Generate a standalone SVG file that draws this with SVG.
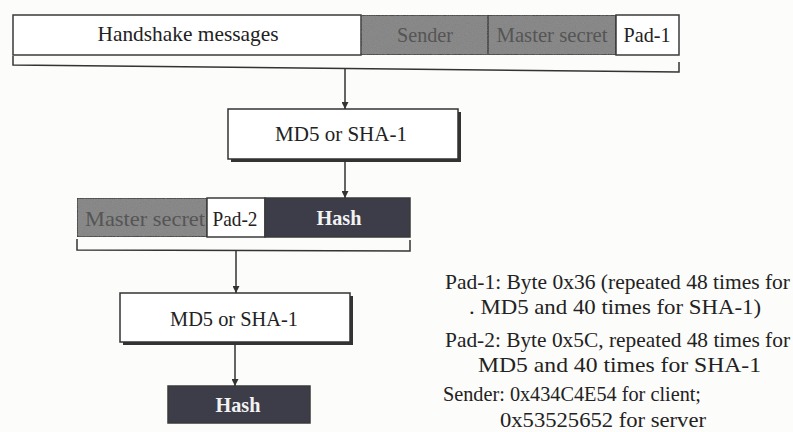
<svg xmlns="http://www.w3.org/2000/svg" width="793" height="432" viewBox="0 0 793 432">
<style>
  .bg { fill: #fcfcfa; }
  .seg { stroke: #3a3a3a; stroke-width: 1.5; }
  .white { fill: #ffffff; }
  .gray { fill: #8a8a8a; }
  .grain { filter: url(#grain); }
  .dark { fill: #3c3d49; }
  .box { fill: #ffffff; stroke: #333; stroke-width: 1.5; }
  .shadow { fill: #333; }
  .t { font-family: "Liberation Serif", "Times New Roman", serif; fill: #222; }
  .lbl { font-size: 22px; text-anchor: middle; }
  .dim { fill: #555; }
  .bold { font-weight: bold; fill: #f2f2f2; }
  .note { font-size: 21px; }
  .ln { stroke: #333; stroke-width: 1.5; fill: none; }
</style>
<defs>
  <marker id="arr" viewBox="0 0 10 10" refX="10" refY="5" markerWidth="7" markerHeight="7" orient="auto" markerUnits="userSpaceOnUse">
    <path d="M0,0 L10,5 L0,10 z" fill="#333"/>
  </marker>
  <filter id="grain" x="0" y="0" width="1" height="1">
    <feTurbulence type="fractalNoise" baseFrequency="0.9" numOctaves="2" seed="7" result="noise"/>
    <feColorMatrix in="noise" type="matrix" values="0 0 0 0 0.2  0 0 0 0 0.2  0 0 0 0 0.2  1.2 0 0 0 -0.45" result="dots"/>
    <feComposite in="dots" in2="SourceGraphic" operator="in" result="clip"/>
    <feMerge><feMergeNode in="SourceGraphic"/><feMergeNode in="clip"/></feMerge>
  </filter>
</defs>
<rect class="bg" x="0" y="0" width="793" height="432"/>

<g id="input-bar">
  <rect class="seg white" x="13" y="15" width="348" height="40"/>
  <rect class="seg gray grain" x="361" y="15" width="127" height="40"/>
  <rect class="seg gray grain" x="488" y="15" width="128" height="40"/>
  <rect class="seg white" x="616" y="15" width="63" height="40"/>
  <text class="t lbl" x="188" y="41" textLength="181" lengthAdjust="spacingAndGlyphs">Handshake messages</text>
  <text class="t lbl dim" x="425" y="42" textLength="56" lengthAdjust="spacingAndGlyphs">Sender</text>
  <text class="t lbl dim" x="552" y="42" textLength="111" lengthAdjust="spacingAndGlyphs">Master secret</text>
  <text class="t lbl" x="647" y="42" textLength="47" lengthAdjust="spacingAndGlyphs">Pad-1</text>
</g>

<g id="md5-box-1">
  <rect class="shadow" x="231" y="112" width="230" height="50"/>
  <rect class="box" x="228" y="109" width="230" height="50"/>
  <text class="t lbl" x="341" y="141" textLength="132" lengthAdjust="spacingAndGlyphs">MD5 or SHA-1</text>
</g>

<g id="second-bar">
  <rect class="seg gray grain" x="77" y="198" width="130" height="39"/>
  <rect class="seg white" x="207" y="198" width="58" height="39"/>
  <rect class="seg dark" x="265" y="198" width="145" height="39"/>
  <text class="t lbl dim" x="145" y="226" textLength="120" lengthAdjust="spacingAndGlyphs">Master secret</text>
  <text class="t lbl" x="235" y="226" textLength="45" lengthAdjust="spacingAndGlyphs">Pad-2</text>
  <text class="t lbl bold" x="339" y="225" textLength="45" lengthAdjust="spacingAndGlyphs">Hash</text>
</g>

<g id="md5-box-2">
  <rect class="shadow" x="123" y="296" width="230" height="49"/>
  <rect class="box" x="120" y="293" width="230" height="49"/>
  <text class="t lbl" x="234" y="326" textLength="128" lengthAdjust="spacingAndGlyphs">MD5 or SHA-1</text>
</g>

<g id="hash-out">
  <rect class="seg dark" x="168" y="386" width="142" height="37"/>
  <text class="t lbl bold" x="238" y="412" textLength="45" lengthAdjust="spacingAndGlyphs">Hash</text>
</g>

<g id="connectors">
  <path class="ln" d="M13,56 L13,65 L679,72 L679,62"/>
  <line class="ln" x1="345" y1="69" x2="345" y2="109" marker-end="url(#arr)"/>
  <line class="ln" x1="345" y1="160" x2="345" y2="198" marker-end="url(#arr)"/>
  <path class="ln" d="M77,239 L77,250 L410,251 L410,240"/>
  <line class="ln" x1="236" y1="250" x2="236" y2="293" marker-end="url(#arr)"/>
  <line class="ln" x1="235" y1="343" x2="235" y2="386" marker-end="url(#arr)"/>
</g>

<g id="notes">
  <text class="t note" x="445" y="289" textLength="345" lengthAdjust="spacingAndGlyphs">Pad-1: Byte 0x36 (repeated 48 times for</text>
  <text class="t note" x="469" y="314" textLength="292" lengthAdjust="spacingAndGlyphs">. MD5 and 40 times for SHA-1)</text>
  <text class="t note" x="445" y="347" textLength="345" lengthAdjust="spacingAndGlyphs">Pad-2: Byte 0x5C, repeated 48 times for</text>
  <text class="t note" x="478" y="372" textLength="283" lengthAdjust="spacingAndGlyphs">MD5 and 40 times for SHA-1</text>
  <text class="t note" x="443" y="401" textLength="258" lengthAdjust="spacingAndGlyphs">Sender: 0x434C4E54 for client;</text>
  <text class="t note" x="500" y="427" textLength="206" lengthAdjust="spacingAndGlyphs">0x53525652 for server</text>
</g>
</svg>
